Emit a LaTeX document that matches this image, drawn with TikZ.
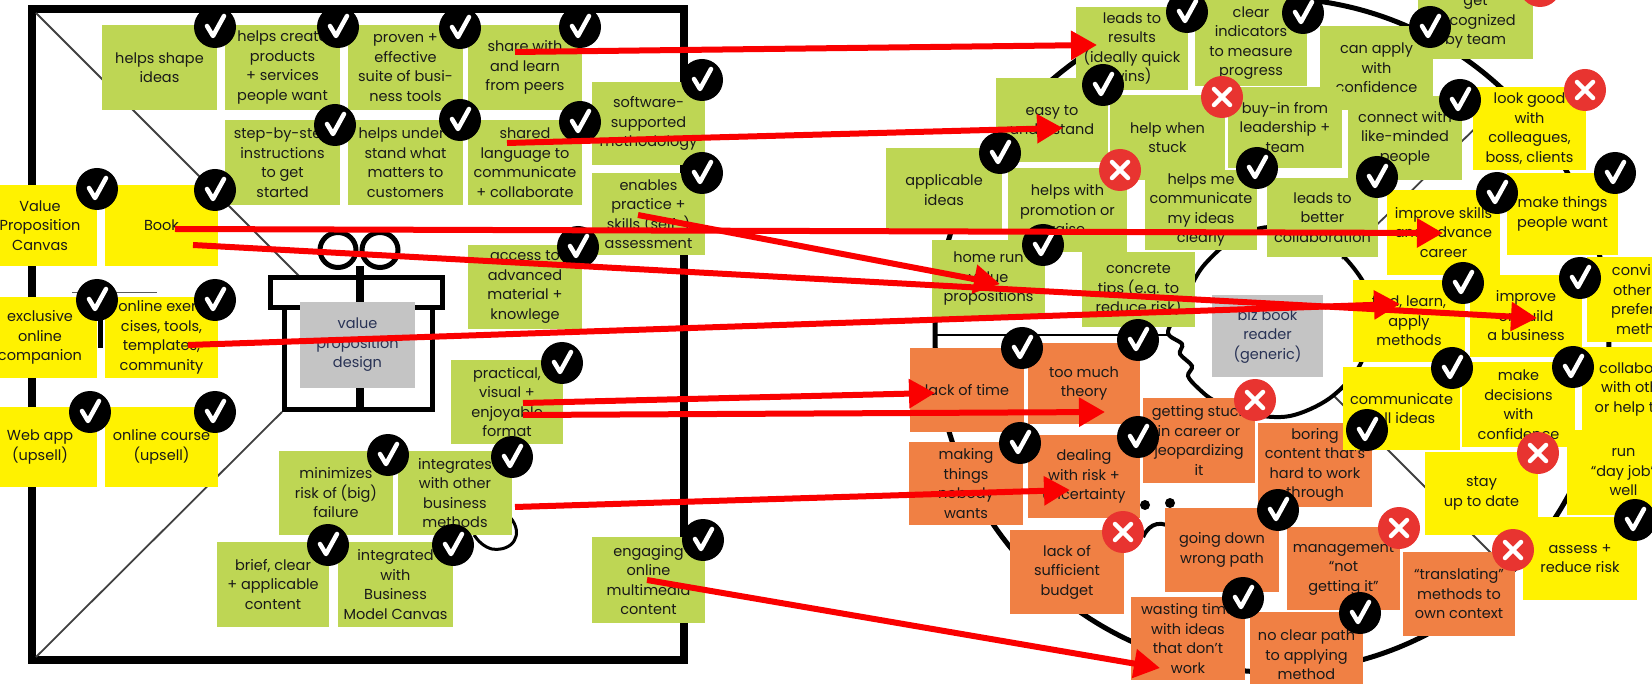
\documentclass[tikz,border=0pt]{standalone}
\usepackage{fontspec}
\setmainfont{Poppins}
\usetikzlibrary{arrows.meta}

\definecolor{notegreen}{RGB}{190,214,84}
\definecolor{noteyellow}{RGB}{255,242,0}
\definecolor{noteorange}{RGB}{240,128,68}
\definecolor{boxgray}{RGB}{196,196,196}
\definecolor{arrowred}{RGB}{250,0,0}
\definecolor{xred}{RGB}{232,52,48}
\definecolor{inkblue}{RGB}{40,50,85}
\definecolor{ink}{RGB}{25,25,25}

% sticky note: style, name, x1, y1, x2, y2, text
\newcommand\stickynote[7]{%
  \pgfmathsetmacro\snX{(#3+#5)/2}%
  \pgfmathsetmacro\snY{(#4+#6)/2}%
  \pgfmathsetmacro\snW{#5-#3}%
  \pgfmathsetmacro\snH{#6-#4}%
  \node[#1, minimum width=\snW pt, minimum height=\snH pt] (#2) at (\snX,\snY) {#7};}

\begin{document}
\begin{tikzpicture}[x=1pt,y=-1pt,
  note/.style={inner sep=0pt, align=center, text=ink,
    font=\fontsize{14.5}{19.5}\selectfont},
  gainnote/.style={note, fill=notegreen},
  jobnote/.style={note, fill=noteyellow},
  painnote/.style={note, fill=noteorange},
  graybox/.style={note, fill=boxgray, text=inkblue},
  okmark/.style={circle, fill=black, minimum size=42pt, inner sep=0pt,
    path picture={\draw[white, line width=4.5pt, line cap=round, line join=round,
      shift={(path picture bounding box.center)}] (-8,-1) -- (-2,9) -- (9,-11);}},
  nomark/.style={circle, fill=xred, minimum size=42pt, inner sep=0pt,
    path picture={\draw[white, line width=4.5pt, line cap=round,
      shift={(path picture bounding box.center)}] (-8,-8) -- (8,8) (-8,8) -- (8,-8);}},
  redarrow/.style={draw=arrowred, line width=6pt,
    -{Triangle[length=26pt, width=28pt]}},
  outline/.style={draw=black, line width=5pt},
  divider/.style={draw=black!75, line width=1.8pt},
]
\useasboundingbox (0,0) rectangle (1652,684);
\clip (0,0) rectangle (1652,684);

% ---------- customer profile: circle, dividers, head ----------
\draw[outline] (1272,335) circle[radius=337pt];
\draw[black, line width=2.5pt] (936,335) -- (1170,335);
\draw[divider] (1342,259) -- (1508,96);
\draw[divider] (1334,396) -- (1511,573);
\draw[black, line width=4pt] plot[smooth cycle, tension=0.55] coordinates {
  (1275,227) (1330,245) (1365,285) (1370,322) (1360,365) (1330,398)
  (1290,416) (1250,414) (1215,401) (1198,388) (1188,376) (1192,366)
  (1180,354) (1182,344) (1168,333) (1178,312) (1190,288) (1205,264) (1235,238)};
% sad face
\fill[black] (1145,505) circle[radius=5pt];
\fill[black] (1170,503) circle[radius=5pt];
\draw[black, line width=4pt] (1143,537) .. controls (1150,522) and (1162,520) .. (1176,530);

% ---------- value map: frame, dividers, gift ----------
\draw[black, line width=8pt] (32,9) rectangle (684,660);
\draw[divider] (36,13) -- (299,276);
\draw[divider] (282,412) -- (36,657);
\draw[outline] (338,250) ellipse[x radius=18pt, y radius=17.5pt];
\draw[outline] (380,250) ellipse[x radius=18pt, y radius=17.5pt];
\draw[black, line width=8pt] (360,266) -- (360,410);
\draw[outline] (270.5,277.5) rectangle (442.5,307.5);
\draw[outline] (284.5,307.5) -- (284.5,409.5) -- (432.5,409.5) -- (432.5,307.5);
\draw[black!65, line width=1pt] (72,293) -- (157,293);
\draw[black, line width=5pt] (100,317) -- (100,348);
\draw[black, line width=3pt] (510,517) .. controls (525,535) and (512,552) .. (492,549)
  .. controls (484,547) and (478,541) .. (474,535);

\stickynote{graybox}{vpd}{300}{302}{415}{388}{value\\proposition\\design}

% products & services
\stickynote{jobnote}{vpc}{-17}{185}{97}{266}{Value\\Proposition\\Canvas}
\stickynote{jobnote}{book}{105}{185}{218}{266}{Book}
\stickynote{jobnote}{companion}{-17}{297}{97}{378}{exclusive\\online\\companion}
\stickynote{jobnote}{exercises}{105}{297}{218}{378}{online exer-\\cises, tools,\\templates,\\community}
\stickynote{jobnote}{webapp}{-17}{407}{97}{487}{Web app\\(upsell)}
\stickynote{jobnote}{course}{105}{407}{218}{487}{online course\\(upsell)}

% gain creators and pain relievers
\stickynote{gainnote}{shape}{102}{25}{217}{110}{helps shape\\ideas}
\stickynote{gainnote}{create}{225}{25}{340}{110}{helps create\\products\\+ services\\people want}
\stickynote{gainnote}{proven}{348}{25}{463}{110}{proven +\\effective\\suite of busi-\\ness tools}
\stickynote{gainnote}{share}{468}{25}{582}{110}{share with\\and learn\\from peers}
\stickynote{gainnote}{stepby}{225}{120}{340}{205}{step-by-step\\instructions\\to get\\started}
\stickynote{gainnote}{understand}{348}{120}{463}{205}{helps under-\\stand what\\matters to\\customers}
\stickynote{gainnote}{language}{468}{120}{582}{205}{shared\\language to\\communicate\\+ collaborate}
\stickynote{gainnote}{software}{592}{82}{705}{165}{software-\\supported\\methodology}
\stickynote{gainnote}{enables}{592}{173}{705}{255}{enables\\practice +\\skills (self-)\\assessment}
\stickynote{gainnote}{access}{468}{245}{582}{329}{access to\\advanced\\material +\\knowlege}
\stickynote{gainnote}{practical}{451}{360}{563}{444}{practical,\\visual +\\enjoyable\\format}
\stickynote{gainnote}{minimizes}{279}{451}{393}{535}{minimizes\\risk of (big)\\failure}
\stickynote{gainnote}{integrates}{398}{451}{512}{535}{integrates\\with other\\business\\methods}
\stickynote{gainnote}{brief}{217}{542}{329}{627}{brief, clear\\+ applicable\\content}
\stickynote{gainnote}{bmc}{338}{542}{453}{627}{integrated\\with\\Business\\Model Canvas}
\stickynote{gainnote}{engaging}{592}{537}{705}{623}{engaging\\online\\multimedia\\content}

% ---------- customer profile notes ----------
\stickynote{graybox}{reader}{1212}{295}{1323}{377}{biz book\\reader\\(generic)}

% gains
\stickynote{gainnote}{results}{1076}{7}{1188}{90}{leads to\\results\\(ideally quick\\wins)}
\stickynote{gainnote}{indicators}{1195}{0}{1307}{86}{clear\\indicators\\to measure\\progress}
\stickynote{gainnote}{recognized}{1418}{-15}{1533}{59}{get\\recognized\\by team}
\stickynote{gainnote}{applyconf}{1320}{26}{1433}{110}{can apply\\with\\confidence}
\stickynote{gainnote}{buyin}{1228}{87}{1342}{168}{buy-in from\\leadership +\\team}
\stickynote{gainnote}{connect}{1348}{96}{1462}{180}{connect with\\like-minded\\people}
\stickynote{gainnote}{easy}{996}{78}{1108}{162}{easy to\\understand}
\stickynote{gainnote}{stuck}{1110}{95}{1225}{180}{help when\\stuck}
\stickynote{gainnote}{applicable}{886}{148}{1002}{232}{applicable\\ideas}
\stickynote{gainnote}{promotion}{1008}{168}{1127}{252}{helps with\\promotion or\\raise}
\stickynote{gainnote}{communicate}{1145}{170}{1257}{250}{helps me\\communicate\\my ideas\\clearly}
\stickynote{gainnote}{collab}{1267}{178}{1378}{257}{leads to\\better\\collaboration}
\stickynote{gainnote}{homerun}{932}{240}{1045}{318}{home run\\value\\propositions}
\stickynote{gainnote}{tips}{1082}{252}{1195}{327}{concrete\\tips (e.g. to\\reduce risk)}

% pains
\stickynote{painnote}{lacktime}{910}{348}{1024}{432}{lack of time}
\stickynote{painnote}{theory}{1028}{343}{1140}{424}{too much\\theory}
\stickynote{painnote}{nobody}{909}{442}{1023}{525}{making\\things\\nobody\\wants}
\stickynote{painnote}{dealing}{1028}{435}{1140}{518}{dealing\\with risk +\\uncertainty}
\stickynote{painnote}{career}{1143}{398}{1255}{483}{getting stuck\\in career or\\jeopardizing\\it}
\stickynote{painnote}{boring}{1258}{423}{1372}{507}{boring\\content that’s\\hard to work\\through}
\stickynote{painnote}{budget}{1010}{530}{1124}{614}{lack of\\sufficient\\budget}
\stickynote{painnote}{wrongpath}{1165}{508}{1279}{592}{going down\\wrong path}
\stickynote{painnote}{management}{1287}{527}{1400}{610}{management\\“not\\getting it”}
\stickynote{painnote}{wasting}{1131}{597}{1245}{680}{wasting time\\with ideas\\that don’t\\work}
\stickynote{painnote}{noclear}{1250}{612}{1363}{698}{no clear path\\to applying\\method}
\stickynote{painnote}{translating}{1403}{552}{1515}{636}{“translating”\\methods to\\own context}

% customer jobs
\stickynote{jobnote}{lookgood}{1473}{87}{1586}{170}{look good\\with\\colleagues,\\boss, clients}
\stickynote{jobnote}{makethings}{1507}{173}{1618}{255}{make things\\people want}
\stickynote{jobnote}{skills}{1387}{190}{1500}{275}{improve skills\\and advance\\career}
\stickynote{jobnote}{findlearn}{1353}{280}{1465}{362}{find, learn,\\apply\\methods}
\stickynote{jobnote}{business}{1470}{275}{1582}{357}{improve\\or build\\a business}
\stickynote{jobnote}{convince}{1587}{257}{1703}{342}{convince\\others of\\preferred\\method}
\stickynote{jobnote}{sellideas}{1343}{367}{1460}{450}{communicate\\sell ideas}
\stickynote{jobnote}{decisions}{1462}{362}{1575}{447}{make\\decisions\\with\\confidence}
\stickynote{jobnote}{collaborate}{1582}{347}{1700}{432}{collaborate\\with others\\or help them}
\stickynote{jobnote}{dayjob}{1567}{430}{1680}{515}{run\\“day job”\\well}
\stickynote{jobnote}{uptodate}{1425}{452}{1538}{535}{stay\\up to date}
\stickynote{jobnote}{assess}{1523}{517}{1637}{600}{assess +\\reduce risk}

% ---------- ticks ----------
\foreach \nm/\px/\py in {shape/215/27, create/338/27, proven/460/28, share/580/27,
  stepby/335/125, understand/460/120, language/580/122, software/702/80,
  enables/702/173, access/578/247, practical/562/363, minimizes/388/455,
  integrates/512/457, brief/328/545, bmc/453/545, engaging/703/540,
  vpc/97/189, book/215/190, companion/97/300, exercises/215/300,
  webapp/90/412, course/215/412,
  results/1187/12, indicators/1303/13, applyconf/1430/27, easy/1103/85,
  applicable/1000/153, homerun/1043/245, communicate/1257/168, collab/1377/177,
  connect/1460/100, makethings/1615/173, skills/1497/193, findlearn/1463/283,
  business/1580/278, sellideas/1452/368, decisions/1573/367,
  lacktime/1022/348, theory/1138/340, nobody/1020/443, dealing/1138/437,
  boring/1367/430, wrongpath/1278/510, wasting/1243/598, noclear/1360/613,
  assess/1635/520}
  \node[okmark] (ok-\nm) at (\px,\py) {};

\foreach \nm/\px/\py in {stuck/1222/97, promotion/1120/170, lookgood/1585/90,
  career/1255/400, budget/1123/532, management/1399/528, translating/1513/550,
  uptodate/1538/453, recognized/1540/-14}
  \node[nomark] (no-\nm) at (\px,\py) {};

% ---------- fit arrows ----------
\coordinate (a1s) at (515,52);   \coordinate (a1e) at (1097,45);
\coordinate (a2s) at (507,143);  \coordinate (a2e) at (1063,128);
\coordinate (a3s) at (175,229);  \coordinate (a3e) at (1443,233);
\coordinate (a4s) at (193,245);  \coordinate (a4e) at (1537,318);
\coordinate (a5s) at (638,215);  \coordinate (a5e) at (1000,284);
\coordinate (a6s) at (188,345);  \coordinate (a6e) at (1400,304);
\coordinate (a7s) at (523,403);  \coordinate (a7e) at (935,393);
\coordinate (a8s) at (523,415);  \coordinate (a8e) at (1105,412);
\coordinate (a9s) at (515,507);  \coordinate (a9e) at (1070,490);
\coordinate (a10s) at (647,580); \coordinate (a10e) at (1160,668);
\foreach \k in {1,...,10}
  \draw[redarrow] (a\k s) -- (a\k e);
\end{tikzpicture}
\end{document}
